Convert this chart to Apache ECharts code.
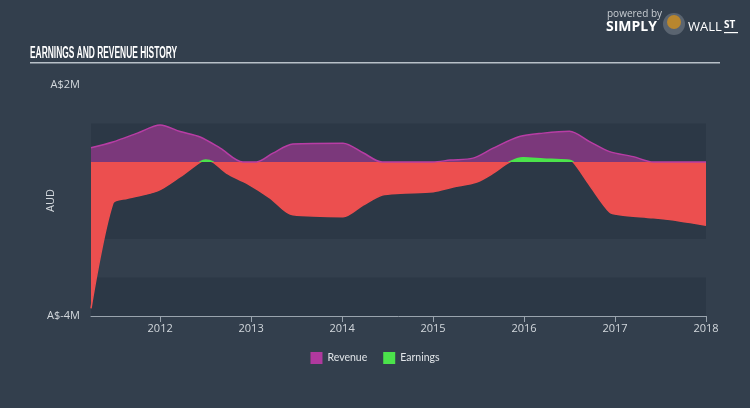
<!DOCTYPE html>
<html>
<head>
<meta charset="utf-8">
<script src="https://cdn.jsdelivr.net/npm/echarts@6/dist/echarts.min.js"></script>
<style>
html,body{margin:0;padding:0;background:#333f4d;}
#chart{width:750px;height:408px;}
</style>
</head>
<body>
<div id="chart"></div>
<script>
// Data (x in decimal years, values in AUD)
var revenueDates  = [2011.24, 2011.48, 2011.75, 2012.0, 2012.22, 2012.44, 2012.66, 2012.91, 2013.06, 2013.24, 2013.46, 2014.01, 2014.23, 2014.44, 2015.0, 2015.19, 2015.44, 2015.66, 2015.95, 2016.21, 2016.5, 2016.72, 2016.94, 2017.2, 2017.42, 2018.0];
var revenueValues = [370000, 520000, 750000, 960000, 790000, 650000, 360000, 0, 0, 230000, 470000, 490000, 240000, 0, 0, 50000, 100000, 360000, 660000, 750000, 800000, 530000, 270000, 140000, 0, 0];
var earningsDates  = [2011.24, 2011.48, 2011.64, 2011.97, 2012.22, 2012.44, 2012.5, 2012.58, 2012.73, 2012.95, 2013.21, 2013.43, 2013.68, 2014.01, 2014.23, 2014.44, 2014.64, 2015.0, 2015.22, 2015.48, 2015.66, 2015.84, 2015.99, 2016.21, 2016.47, 2016.54, 2016.72, 2016.94, 2017.05, 2017.42, 2017.71, 2018.0];
var earningsValues = [-3800000, -1070000, -940000, -750000, -380000, 0, 50000, 0, -290000, -550000, -940000, -1350000, -1400000, -1420000, -1120000, -860000, -810000, -770000, -650000, -520000, -290000, 0, 110000, 80000, 50000, 0, -600000, -1300000, -1370000, -1450000, -1530000, -1640000];
var yearTicks = [2012, 2013, 2014, 2015, 2016, 2017, 2018];
var yLabelValues = [-4000000, 2000000];

function pairs(xs, ys) { return xs.map(function (x, i) { return [x, ys[i]]; }); }

var chart = echarts.init(document.getElementById('chart'), null, {renderer: 'canvas'});
var labelColor = '#d3d8dd';
var dark = '#2c3846';
var green = '#4be34b', red = '#ec4f4f';
var option = {
  backgroundColor: '#333f4d',
  animation: false,
  grid: {left: 91, right: 44, top: 85, bottom: 92},
  xAxis: {
    type: 'value', min: 2011.24, max: 2018.0,
    axisLine: {show: true, onZero: false, lineStyle: {color: '#9aa4ae', width: 1}},
    axisTick: {show: true, customValues: yearTicks, length: 6, lineStyle: {color: '#9aa4ae'}},
    axisLabel: {customValues: yearTicks, color: labelColor, fontSize: 11, fontFamily: 'Open Sans', margin: 7,
      formatter: function (v) { return String(Math.round(v)); }},
    splitLine: {show: false}
  },
  yAxis: {
    type: 'value', min: -4000000, max: 2000000, interval: 1000000,
    name: 'AUD', nameLocation: 'middle', nameGap: 35, nameRotate: 90, nameMoveOverlap: false,
    nameTextStyle: {color: labelColor, fontSize: 11, fontFamily: 'Open Sans'},
    axisLine: {show: false}, axisTick: {show: false},
    axisLabel: {customValues: yLabelValues, color: labelColor, fontSize: 11, fontFamily: 'Open Sans', margin: 11,
      formatter: function (v) { return 'A$' + Math.round(v / 1000000) + 'M'; }},
    splitLine: {show: false},
    splitArea: {show: true, areaStyle: {color: [dark, 'rgba(0,0,0,0)', dark, dark, dark, 'rgba(0,0,0,0)']}}
  },
  legend: {
    bottom: 39, left: 'center', icon: 'rect', itemWidth: 12, itemHeight: 12, itemGap: 16,
    textStyle: {color: '#e0e4e8', fontSize: 10.5, fontFamily: 'Lato'},
    data: [{name: 'Revenue', itemStyle: {color: '#b0399e'}}, {name: 'Earnings', itemStyle: {color: green}}]
  },
  series: [
    {
      name: 'Revenue', type: 'line', data: pairs(revenueDates, revenueValues),
      smooth: 0.3, showSymbol: false, symbol: 'none',
      lineStyle: {color: '#b83da5', width: 1.5},
      itemStyle: {color: '#b0399e'},
      areaStyle: {color: 'rgba(176,57,158,0.6)', opacity: 1}
    },
    {
      name: 'Earnings', type: 'line', data: pairs(earningsDates, earningsValues),
      smooth: 0.3, showSymbol: false, symbol: 'none',
      lineStyle: {width: 1.5, color: red},
      itemStyle: {color: green},
      areaStyle: {opacity: 1, color: red}
    }
  ],
  graphic: [
    {type: 'text', left: 30, top: 46, scaleX: 0.525,
      style: {text: 'EARNINGS AND REVENUE HISTORY', fill: '#ffffff', font: 'bold 16px "Liberation Sans"'}},
    {type: 'rect', shape: {x: 30, y: 62, width: 690, height: 1.5}, style: {fill: '#b8c0c8'}},
    {type: 'text', left: 607, top: 9, style: {text: 'powered by', fill: '#c8cdd2', font: '10px "Open Sans"'}},
    {type: 'text', left: 606, top: 20, style: {text: 'SIMPLY', fill: '#ffffff', font: 'bold 14px "Open Sans"'}},
    {type: 'circle', shape: {cx: 674, cy: 24, r: 11}, style: {fill: '#5a6470'}},
    {type: 'circle', shape: {cx: 674, cy: 22, r: 7}, style: {fill: '#b8862e'}},
    {type: 'text', left: 688, top: 21, style: {text: 'WALL', fill: '#ffffff', font: '13px "Open Sans"'}},
    {type: 'text', left: 724, top: 20, style: {text: 'ST', fill: '#ffffff', font: 'bold 10px "Open Sans"'}},
    {type: 'rect', shape: {x: 724, y: 32, width: 14, height: 1.2}, style: {fill: '#ffffff'}}
  ]
};
chart.setOption(option);

// Colour earnings green above zero, red below (gradient in pixel space)
var yTop = chart.convertToPixel({yAxisIndex: 0}, 2000000);
var yBot = chart.convertToPixel({yAxisIndex: 0}, -4000000);
var yZero = chart.convertToPixel({yAxisIndex: 0}, 0);
var f = (yZero - yTop) / (yBot - yTop);
function grad() {
  return new echarts.graphic.LinearGradient(0, yTop, 0, yBot, [
    {offset: 0, color: green}, {offset: f, color: green},
    {offset: f, color: red}, {offset: 1, color: red}
  ], true);
}
chart.setOption({series: [{}, {lineStyle: {color: grad()}, areaStyle: {color: grad()}}]});
</script>
</body>
</html>
